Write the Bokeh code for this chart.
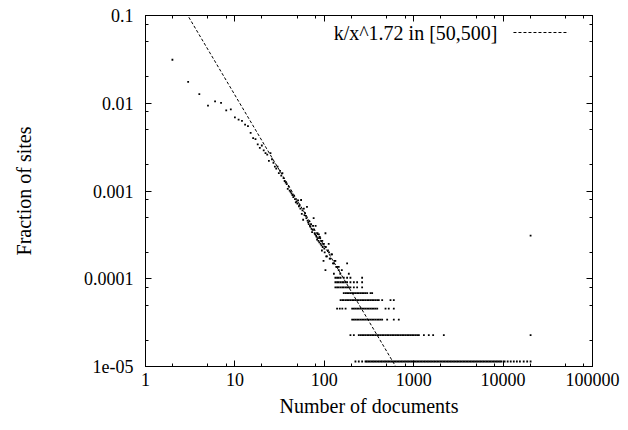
import numpy as np
from bokeh.plotting import figure
from bokeh.models import Range1d, LogAxis, FixedTicker, CustomJSTickFormatter, Label
from bokeh.embed import file_html
from bokeh.resources import INLINE

FONT = "Liberation Serif"
FS = "18px"
FS_TITLE = "20px"

# ---------------- data ----------------
x_tick_values = [1, 10, 100, 1000, 10000, 100000]
x_tick_labels = ["1", "10", "100", "1000", "10000", "100000"]
y_tick_values = [1e-5, 1e-4, 1e-3, 1e-2, 1e-1]
y_tick_labels = ["1e-05", "0.0001", "0.001", "0.01", "0.1"]

# scattered part of the distribution (number of documents, fraction of sites)
scatter_x = [2, 3, 4, 5, 6, 7, 8, 9, 10, 11, 12, 13, 14, 15, 16, 17, 18, 19, 20,
             21, 22, 23, 24, 25, 26, 27, 28, 29, 30, 31, 32, 33, 34, 35, 36, 37, 38, 39, 40,
             41, 42, 43, 44, 45, 46, 47, 48, 49, 50, 51, 52, 53, 54, 55, 56, 57, 58, 59, 60,
             61, 62, 63, 64, 65, 66, 67, 68, 69, 70, 71, 72, 73, 74, 75, 76, 77, 78, 79, 80,
             81, 82, 83, 84, 85, 86, 87, 88, 89, 90, 91, 92, 93, 94, 95, 96, 97, 98, 99, 100,
             101, 103, 104, 105, 107, 110, 112, 113, 115, 117, 120, 122, 125, 128, 130, 133,
             180, 20300]
scatter_y = [0.0313, 0.0175, 0.0127, 0.0094, 0.0105, 0.0101, 0.0083, 0.0085, 0.0069, 0.0065,
             0.0063, 0.0057, 0.0055, 0.0046, 0.0040, 0.0039, 0.0034, 0.0031, 0.0033,
             0.0029, 0.0027, 0.0026, 0.0022, 0.0027, 0.0023, 0.0021, 0.0019, 0.0018, 0.0019,
             0.0016, 0.0017, 0.0015, 0.0016, 0.0014, 0.0013, 0.00125, 0.0012, 0.00106, 0.00112,
             0.00101, 0.00098, 0.00094, 0.00090, 0.00085, 0.00088, 0.00081, 0.00074, 0.00076, 0.00072,
             0.00078, 0.00067, 0.00069, 0.00063, 0.00079, 0.00055, 0.00060, 0.00047, 0.00063, 0.00053,
             0.00056, 0.00052, 0.00049, 0.00066, 0.00046, 0.00044, 0.00042, 0.00045, 0.00040, 0.00039,
             0.00042, 0.00037, 0.00034, 0.00036, 0.00040, 0.00049, 0.00036, 0.00033, 0.00032, 0.00040,
             0.00031, 0.00030, 0.00028, 0.00033, 0.00029, 0.00027, 0.00032, 0.00026, 0.00030, 0.00029,
             0.00025, 0.00027, 0.00024, 0.00021, 0.00027, 0.00023, 0.00025, 0.00016, 0.00025, 0.00022,
             0.00020, 0.00033, 0.00023, 0.00018, 0.00018, 0.00021, 0.00025, 0.00020, 0.00017, 0.00017,
             0.00019, 0.00019, 0.00015, 0.00015, 0.00016, 0.00016,
             0.00015, 0.00031]

# quantised tail: fraction levels (1, 2, 3 ... sites) and the document counts found at each
level_y = [1.14e-5, 2.28e-5, 3.42e-5, 4.56e-5, 5.70e-5, 6.84e-5,
           7.98e-5, 9.12e-5, 1.026e-4, 1.14e-4, 1.254e-4, 1.368e-4]
level_x = [
    [223, 243, 265, 289, 298, 310, 322, 335, 349, 362, 377, 392, 408, 425, 441, 460, 478, 497,
     517, 538, 560, 583, 606, 630, 655, 682, 709, 738, 768, 799, 831, 864, 899, 935, 973, 1012,
     1053, 1095, 1139, 1185, 1233, 1283, 1334, 1388, 1444, 1502, 1562, 1625, 1691, 1759, 1830,
     1903, 1980, 2060, 2143, 2229, 2319, 2412, 2509, 2610, 2715, 2825, 2938, 3057, 3180, 3308,
     3441, 3580, 3724, 3874, 4030, 4193, 4361, 4537, 4720, 4910, 5108, 5314, 5528, 5750, 5982,
     6223, 6474, 6735, 7006, 7288, 7582, 7888, 8205, 8536, 8880, 9238, 9610, 10400, 11250,
     12170, 13170, 14250, 15420, 17000, 18600, 20300],
    [196, 214, 243, 254, 265, 277, 289, 302, 315, 329, 343, 358, 374, 391, 407, 425, 444, 463,
     484, 505, 526, 550, 574, 599, 625, 652, 681, 712, 743, 775, 809, 845, 882, 920, 960, 1002,
     1047, 1093, 1143, 1300, 1475, 1650, 2172, 20300],
    [205, 214, 223, 233, 243, 254, 265, 277, 289, 302, 315, 329, 343, 358, 374, 391, 407, 425,
     444, 505, 599, 681],
    [139, 149, 159, 173, 205, 214, 223, 233, 243, 254, 265, 277, 289, 302, 315, 329, 343, 358,
     374, 391, 484, 526, 599],
    [152, 159, 165, 173, 180, 188, 196, 205, 214, 223, 233, 243, 254, 265, 277, 289, 302, 315,
     329, 343, 358, 374, 391, 407, 444, 550, 599],
    [165, 173, 180, 188, 196, 205, 214, 223, 233, 243, 254, 265, 277, 289, 302, 329, 343],
    [133, 139, 145, 152, 159, 165, 173, 180, 188, 196, 214, 233, 265],
    [133, 139, 145, 152, 159, 165, 173, 180, 196, 214, 233, 265],
    [133, 139, 145, 152, 165, 180, 196, 265],
    [128, 151, 188],
    [103, 145, 157],
    [136, 139, 145],
]

fit_k = 0.651
fit_exponent = 1.72
fit_label = "k/x^1.72 in [50,500]"

x_limits = (1, 100000)
y_limits = (1e-5, 0.1)

# legend placement (data space, top right)
legend_text_x = 8650
legend_y = 0.064
legend_line_x0 = 13060
legend_line_x1 = 53900

# ---------------- build ----------------
pts_x = list(scatter_x)
pts_y = list(scatter_y)
for yv, xs in zip(level_y, level_x):
    pts_x += xs
    pts_y += [yv] * len(xs)

fit_x = np.array(x_limits, dtype=float)
fit_y = fit_k * fit_x ** (-fit_exponent)

p = figure(x_axis_type="log", y_axis_type="log",
           x_range=Range1d(*x_limits), y_range=Range1d(*y_limits),
           frame_width=447, frame_height=351,
           min_border_left=145, min_border_right=36, min_border_top=15, min_border_bottom=64,
           output_backend="svg", toolbar_location=None,
           background_fill_color="white", border_fill_color="white")
p.grid.visible = False
p.outline_line_color = "black"
p.outline_line_width = 1

x_minor = [m * 10 ** d for d in range(0, 5) for m in (2, 5, 8)]
y_minor = [m * 10.0 ** d for d in range(-5, -1) for m in (2, 5, 8)]

fmt_code = """
let best = 0, bd = Infinity;
for (let i = 0; i < vals.length; i++) {
  const d = Math.abs(Math.log10(vals[i]) - Math.log10(tick));
  if (d < bd) { bd = d; best = i; }
}
return labels[best];
"""


def style(axis, ticks, minors, labels, show):
    axis.ticker = FixedTicker(ticks=ticks, minor_ticks=minors)
    axis.axis_line_color = "black"
    axis.axis_line_width = 1
    axis.major_tick_in = 6
    axis.major_tick_out = 0
    axis.minor_tick_in = 3
    axis.minor_tick_out = 0
    axis.major_tick_line_color = "black"
    axis.minor_tick_line_color = "black"
    axis.formatter = CustomJSTickFormatter(args=dict(vals=ticks, labels=labels), code=fmt_code)
    if show:
        axis.major_label_text_font = FONT
        axis.major_label_text_font_size = FS
        axis.major_label_text_color = "black"
        axis.axis_label_text_font = FONT
        axis.axis_label_text_font_size = FS_TITLE
        axis.axis_label_text_font_style = "normal"
        axis.axis_label_text_color = "black"
    else:
        axis.major_label_text_font_size = "1px"
        axis.major_label_text_alpha = 0
        axis.major_label_standoff = 0


xb = p.xaxis[0]
yl = p.yaxis[0]
style(xb, x_tick_values, x_minor, x_tick_labels, True)
style(yl, y_tick_values, y_minor, y_tick_labels, True)
xb.major_label_standoff = 6
xb.axis_label = "Number of documents"
xb.axis_label_standoff = 6
yl.major_label_standoff = 12
yl.axis_label = "Fraction of sites"
yl.axis_label_standoff = 46

xt = LogAxis()
style(xt, x_tick_values, x_minor, x_tick_labels, False)
p.add_layout(xt, "above")
yr = LogAxis()
style(yr, y_tick_values, y_minor, y_tick_labels, False)
p.add_layout(yr, "right")

p.line(fit_x, fit_y, line_color="black", line_width=1, line_dash="3 2")
p.scatter(pts_x, pts_y, marker="square", size=1.8, fill_color="black", line_color=None)

p.add_layout(Label(x=legend_text_x, y=legend_y, text=fit_label, text_align="right",
                   text_baseline="middle", text_font=FONT, text_font_size=FS_TITLE,
                   text_color="black"))
p.segment(x0=[legend_line_x0], y0=[legend_y], x1=[legend_line_x1], y1=[legend_y],
          line_color="black", line_width=1, line_dash="3 2")

open("out.html", "w").write(file_html(p, INLINE))
